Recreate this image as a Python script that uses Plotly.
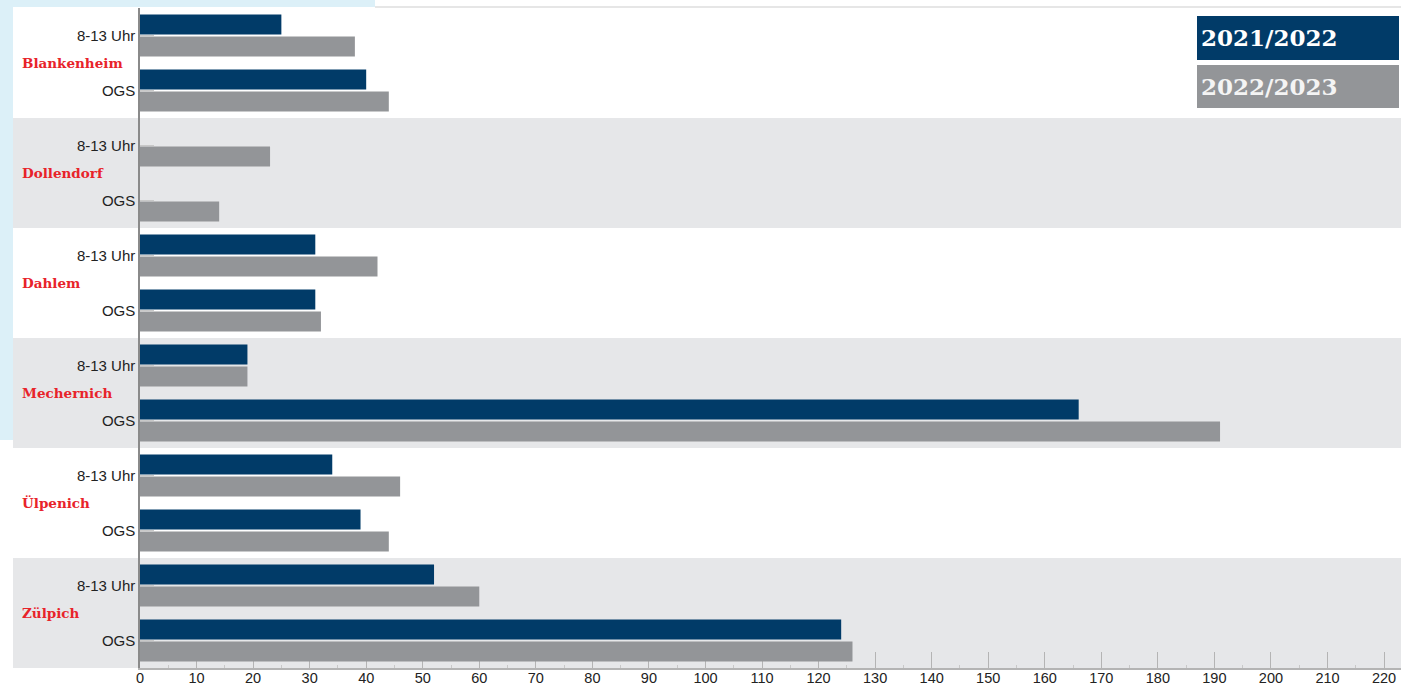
import plotly.graph_objects as go

# ---- data ----
orte = ["Blankenheim", "Dollendorf", "Dahlem", "Mechernich", "Ülpenich", "Zülpich"]
angebote = ["8-13 Uhr", "OGS"]
serien = ["2021/2022", "2022/2023"]
werte_2021 = [25, 40, 0, 0, 31, 31, 19, 166, 34, 39, 52, 124]
werte_2022 = [38, 44, 23, 14, 42, 32, 19, 191, 46, 44, 60, 126]
x_ticks = list(range(0, 221, 10))

# ---- layout constants (pixels) ----
W, H = 1401, 686
L, R, T, B = 140, 0, 8, 18
PW, PH = W - L - R, H - T - B

def px_x(px):
    return (px - L) / PW

def px_y(py):
    return 1 - (py - T) / PH

keys = [f"{o}|{a}" for o in orte for a in angebote]
labels = [a for o in orte for a in angebote]

blue = "#013b68"
grey = "#939598"

fig = go.Figure()
fig.add_trace(go.Bar(y=keys, x=werte_2021, orientation="h", name=serien[0],
                     marker=dict(color=blue, line=dict(width=0))))
fig.add_trace(go.Bar(y=keys, x=werte_2022, orientation="h", name=serien[1],
                     marker=dict(color=grey, line=dict(width=0))))

shapes = []
# light blue backdrop strips
shapes.append(dict(type="rect", xref="paper", yref="paper", x0=px_x(0), x1=px_x(13),
                   y0=px_y(440), y1=px_y(0), fillcolor="#dcf0f8", line=dict(width=0), layer="below"))
shapes.append(dict(type="rect", xref="paper", yref="paper", x0=px_x(0), x1=px_x(375),
                   y0=px_y(7), y1=px_y(0), fillcolor="#dcf0f8", line=dict(width=0), layer="below"))
shapes.append(dict(type="line", xref="paper", yref="paper", x0=px_x(375), x1=1,
                   y0=px_y(7), y1=px_y(7), line=dict(color="#e6e6e6", width=2), layer="below"))
# alternating bands
n = len(orte)
for i in range(n):
    shapes.append(dict(type="rect", xref="paper", yref="paper", x0=px_x(13), x1=1,
                       y0=1 - (i + 1) / n, y1=1 - i / n,
                       fillcolor="#ffffff" if i % 2 == 0 else "#e6e7e9",
                       line=dict(width=0), layer="below"))
# legend boxes
shapes.append(dict(type="rect", xref="paper", yref="paper", x0=px_x(1197), x1=px_x(1399),
                   y0=px_y(60), y1=px_y(16), fillcolor=blue, line=dict(width=0), layer="above"))
shapes.append(dict(type="rect", xref="paper", yref="paper", x0=px_x(1197), x1=px_x(1399),
                   y0=px_y(108), y1=px_y(65), fillcolor=grey, line=dict(width=0), layer="above"))

annotations = []
for i, o in enumerate(orte):
    annotations.append(dict(text=f"<b>{o}</b>", xref="paper", yref="paper",
                            x=px_x(20), y=1 - (i + 0.5) / n, xanchor="left", yanchor="middle",
                            showarrow=False,
                            font=dict(family="DejaVu Serif", size=13.5, color="#e8232a")))
annotations.append(dict(text=f"<b>{serien[0]}</b>", xref="paper", yref="paper",
                        x=px_x(1199), y=px_y(38), xanchor="left", yanchor="middle", showarrow=False,
                        font=dict(family="DejaVu Serif", size=23, color="#ffffff")))
annotations.append(dict(text=f"<b>{serien[1]}</b>", xref="paper", yref="paper",
                        x=px_x(1199), y=px_y(87), xanchor="left", yanchor="middle", showarrow=False,
                        font=dict(family="DejaVu Serif", size=23, color="#f4f4f4")))

fig.update_layout(
    width=W, height=H,
    margin=dict(l=L, r=R, t=T, b=B, pad=0),
    paper_bgcolor="#ffffff", plot_bgcolor="rgba(0,0,0,0)",
    barmode="group", bargap=0.2, bargroupgap=0.1,
    showlegend=False,
    shapes=shapes, annotations=annotations,
    xaxis=dict(range=[0, 223], tickmode="array", tickvals=x_ticks,
               ticktext=[str(v) for v in x_ticks],
               ticks="inside", ticklen=16, tickcolor="#b4b4b4", tickwidth=1,
               minor=dict(ticks="inside", ticklen=3, dtick=5, tickcolor="#c8c8c8"),
               showline=True, linecolor="#b4b4b4", linewidth=1.5,
               showgrid=False, zeroline=False, layer="below traces",
               tickfont=dict(family="Liberation Sans", size=14.5, color="#222222"),
               ticklabelstandoff=-4,
               automargin=False, fixedrange=True),
    yaxis=dict(categoryorder="array", categoryarray=keys, autorange="reversed",
               tickmode="array", tickvals=keys, ticktext=labels,
               ticks="inside", ticklen=14, tickcolor="#c8c8c8",
               showline=True, linecolor="#8a8a8a", linewidth=1.5,
               showgrid=False, zeroline=False, layer="below traces",
               tickfont=dict(family="Liberation Sans", size=15, color="#222222"),
               ticklabelstandoff=0,
               automargin=False, fixedrange=True),
)

fig.write_html("out.html", config=dict(displayModeBar=False))
